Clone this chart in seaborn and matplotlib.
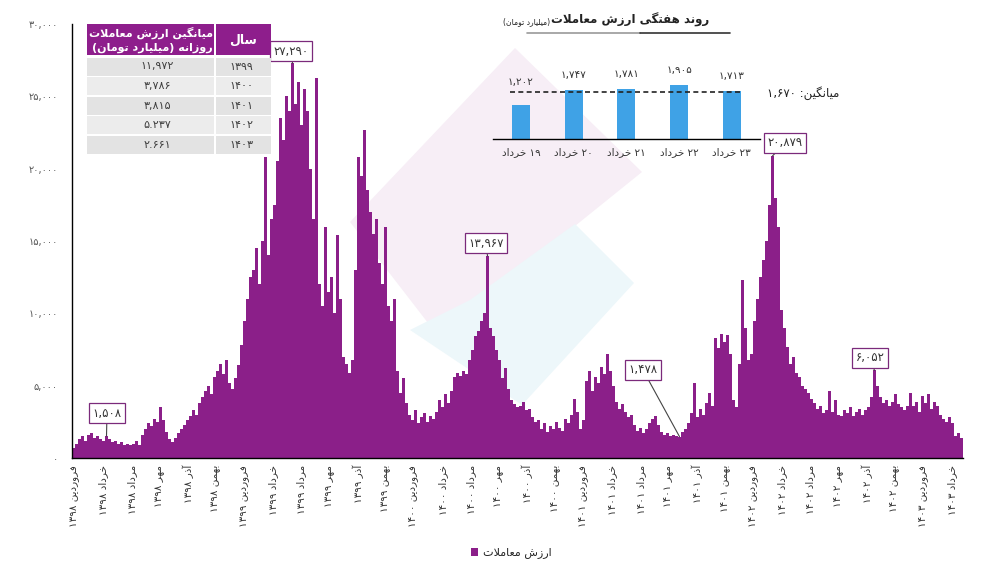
import numpy as np
import pandas as pd
import matplotlib
matplotlib.use("Agg")
import matplotlib.pyplot as plt
import seaborn as sns
from matplotlib.patches import Rectangle, Polygon, Patch
from matplotlib.lines import Line2D

sns.set_theme(style="white")
plt.rcParams["font.family"] = ["DejaVu Sans"]

# ---------------- data ----------------
# daily trading value (billion toman), read off the chart left -> right
daily_value = [
    700, 1000, 1300, 1500, 1200, 1600, 1700, 1400, 1500, 1300,
    1200, 1508, 1300, 1100, 1200, 1000, 1100, 900, 1000, 900,
    1000, 1200, 900,
    1600, 2000, 2400, 2200, 2700, 2500, 3500,
    2600, 1800, 1300, 1100, 1400,
    1700, 2000, 2300, 2600, 2900, 3300, 3000, 3800,
    4200, 4600, 5000, 4400, 5600,
    6000, 6500, 5800, 6800, 5200,
    4800, 5500, 6400, 7800,
    9500, 11000, 12500,
    13000, 14500, 12000, 15000, 20800,
    14000, 16500, 17500,
    20500, 23500, 22000, 25000, 24000,
    27290,
    24500, 26000, 23000, 25500, 24000,
    20000, 16500,
    26300,
    12000, 10500,
    16000,
    11500, 12500, 10000, 15400,
    11000, 7000,
    6500, 5900, 6800,
    13000,
    20800,
    19500, 22700,
    18500, 17000,
    15500, 16500, 13500,
    12000, 16000,
    10500, 9500, 11000,
    6000, 4500, 5500, 3800,
    3000, 2600, 3300, 2400, 2800, 3100, 2500, 2900, 2700,
    3200, 4000, 3500, 4400, 3800, 4600,
    5600, 5900, 5700, 6000, 5800,
    6800, 7500, 8400,
    8800, 9500, 10000,
    13967,
    9000, 8400, 7500,
    6800, 5500, 6200,
    4800, 4000, 3700,
    3500, 3600, 3900, 3300,
    3400, 2800, 2500, 2600,
    2000, 2400, 1800, 2200, 2000, 2500, 2100, 1900,
    2700, 2400, 3000, 4100, 3200,
    2000, 2600,
    5300, 6000, 4600, 5600, 5200, 6300,
    5800, 7200, 6000,
    5000, 3900, 3400,
    3700, 3200, 2800, 3000,
    2300, 1900, 2100, 1700, 2000,
    2400, 2700, 2900, 2300,
    1800, 1600, 1700, 1500, 1600, 1500,
    1478,
    1800, 2000, 2400,
    3100, 5200, 2800, 3400, 3000,
    3800, 4500, 3600,
    8300, 7600, 8600, 8000, 8500, 7200,
    4000, 3500, 6500,
    12300,
    9000, 6800, 7200,
    9500, 11000, 12500, 13700,
    15000, 17500,
    20879,
    18000, 16000,
    10200, 9000,
    7700, 6500, 7000, 5900,
    5600, 5000, 4800, 4500, 4100,
    3800, 3400, 3600, 3100, 3300,
    4600, 3200, 4000, 3000,
    2900, 3300, 3100, 3500, 2900, 3200, 3400, 3000, 3300, 3500,
    4200, 6052, 5000,
    4200, 3800, 4000, 3600, 3900, 4400, 3700, 3500, 3300, 3600,
    4500, 3600, 3900, 3200, 4300, 3800, 4400, 3400, 3900, 3600, 3000,
    2700, 2500, 2800, 2400,
    1500, 1700, 1400,
]
annotated_values = [1508, 27290, 13967, 1478, 20879, 6052]

month_names = ["فروردین", "خرداد", "مرداد", "مهر", "آذر", "بهمن"]
tick_years = ["1398", "1399", "1400", "1401", "1402", "1403"]

table_years = ["1399", "1400", "1401", "1402", "1403"]
table_avgs = ["11,972", "3,786", "3,815", "5.237", "2.661"]

weekly_days = ["19", "20", "21", "22", "23"]
weekly_values = [1202, 1747, 1781, 1905, 1713]
weekly_avg = 1670

PURPLE = "#8B1F89"
HEAD = "#8E1E8C"
BLUE = "#3FA2E6"

# ---------------- Persian text helpers ----------------
FORMS = {
    "\u0627": ("\uFE8D", "\uFE8E", None, None),
    "\u0622": ("\uFE81", "\uFE82", None, None),
    "\u0628": ("\uFE8F", "\uFE90", "\uFE91", "\uFE92"),
    "\u067E": ("\uFB56", "\uFB57", "\uFB58", "\uFB59"),
    "\u062A": ("\uFE95", "\uFE96", "\uFE97", "\uFE98"),
    "\u062E": ("\uFEA5", "\uFEA6", "\uFEA7", "\uFEA8"),
    "\u062F": ("\uFEA9", "\uFEAA", None, None),
    "\u0630": ("\uFEAB", "\uFEAC", None, None),
    "\u0631": ("\uFEAD", "\uFEAE", None, None),
    "\u0632": ("\uFEAF", "\uFEB0", None, None),
    "\u0633": ("\uFEB1", "\uFEB2", "\uFEB3", "\uFEB4"),
    "\u0634": ("\uFEB5", "\uFEB6", "\uFEB7", "\uFEB8"),
    "\u0639": ("\uFEC9", "\uFECA", "\uFECB", "\uFECC"),
    "\u0641": ("\uFED1", "\uFED2", "\uFED3", "\uFED4"),
    "\u0644": ("\uFEDD", "\uFEDE", "\uFEDF", "\uFEE0"),
    "\u0645": ("\uFEE1", "\uFEE2", "\uFEE3", "\uFEE4"),
    "\u0646": ("\uFEE5", "\uFEE6", "\uFEE7", "\uFEE8"),
    "\u0647": ("\uFEE9", "\uFEEA", "\uFEEB", "\uFEEC"),
    "\u0648": ("\uFEED", "\uFEEE", None, None),
    "\u06CC": ("\uFBFC", "\uFBFD", "\uFBFE", "\uFBFF"),
    "\u06AF": ("\uFB92", "\uFB93", "\uFB94", "\uFB95"),
    "\u06A9": ("\uFB8E", "\uFB8F", "\uFB90", "\uFB91"),
}
LAMALEF = {"\u0627": ("\uFEFB", "\uFEFC"), "\u0622": ("\uFEF5", "\uFEF6")}


def _dual(c):
    return c in FORMS and FORMS[c][2] is not None


def shape(s):
    out, i, n = [], 0, len(s)
    while i < n:
        c = s[i]
        if c not in FORMS:
            out.append(c)
            i += 1
            continue
        cp = i > 0 and _dual(s[i - 1])
        if c == "\u0644" and i + 1 < n and s[i + 1] in LAMALEF:
            lig = LAMALEF[s[i + 1]]
            out.append(lig[1] if cp else lig[0])
            i += 2
            continue
        cn = _dual(c) and i + 1 < n and s[i + 1] in FORMS
        iso, fin, ini, med = FORMS[c]
        out.append(med if (cp and cn) else fin if cp else ini if cn else iso)
        i += 1
    return "".join(out)


DIG = set("0123456789۰۱۲۳۴۵۶۷۸۹")
SEP = set(",.،٫")
MIRROR = {"(": ")", ")": "("}
FA_DIG = str.maketrans("0123456789", "۰۱۲۳۴۵۶۷۸۹")


def fa(s):
    s = shape(s.translate(FA_DIG))
    tokens, i = [], 0
    while i < len(s):
        if s[i] in DIG:
            j = i
            while j < len(s) and (s[j] in DIG or (s[j] in SEP and j + 1 < len(s) and s[j + 1] in DIG)):
                j += 1
            tokens.append(s[i:j])
        else:
            j = i
            while j < len(s) and s[j] not in DIG:
                j += 1
            tokens.append("".join(MIRROR.get(ch, ch) for ch in reversed(s[i:j])))
        i = j
    return "".join(reversed(tokens))


# ---------------- figure ----------------
W, H = 1000, 573
fig = plt.figure(figsize=(W / 100, H / 100), dpi=100)


def fx(px):
    return px / W


def fy(py):
    return 1 - py / H


# watermark (faint logo shapes), behind everything
pink = [(515, 48), (642, 172), (575, 226), (445, 345), (350, 222)]
blue = [(575, 224), (634, 283), (522, 405), (410, 330), (470, 300)]
fig.patches.append(Polygon([(fx(a), fy(b)) for a, b in pink], closed=True,
                           transform=fig.transFigure, facecolor="#F7EEF6", edgecolor="none", zorder=-2))
fig.patches.append(Polygon([(fx(a), fy(b)) for a, b in blue], closed=True,
                           transform=fig.transFigure, facecolor="#EDF7FA", edgecolor="none", zorder=-1))

# ---- main chart ----
ax = fig.add_axes([fx(72), fy(458), fx(963) - fx(72), fy(24) - fy(458)])
ax.patch.set_alpha(0)
N = len(daily_value)
df = pd.DataFrame({"day": np.arange(N), "value": daily_value})
sns.barplot(data=df, x="day", y="value", color=PURPLE, saturation=1, width=0.9,
            errorbar=None, linewidth=0, ax=ax)
ax.set_xlim(-0.5, N - 0.5)
ax.set_ylim(0, 30000)
ax.set_xlabel("")
ax.set_ylabel("")

tick_labels = []
for y in tick_years:
    for m in month_names:
        if y == "1403" and m not in ("فروردین", "خرداد"):
            continue
        tick_labels.append(fa(f"{m} {y}"))
tick_pos = 0.5 + 9.43 * np.arange(len(tick_labels))
ax.set_xticks(tick_pos)
ax.set_xticklabels(tick_labels, rotation=90, fontsize=7.5, color="#333333")
yt = list(range(0, 30001, 5000))
ax.set_yticks(yt)
ax.set_yticklabels([fa(f"{v:,}") for v in yt], fontsize=7, color="#555555")
ax.tick_params(axis="x", length=0, pad=5)
ax.tick_params(axis="y", length=0, pad=10)
sns.despine(ax=ax)
for sp in ("left", "bottom"):
    ax.spines[sp].set_color("black")
    ax.spines[sp].set_linewidth(1.0)

# annotations
box_pos_px = [(107, 413), (291, 51), (486, 243), (643, 370), (785, 143), (870, 358)]
for val, (bx, by) in zip(annotated_values, box_pos_px):
    idx = daily_value.index(val)
    xd = (bx - 72) / 3 - 0.5
    yd = (458 - by) * 30000 / 434
    ax.annotate(fa(f"{val:,}"), xy=(idx, val), xytext=(xd, yd),
                ha="center", va="center", fontsize=8.5, color="#333333",
                bbox=dict(boxstyle="square,pad=0.3", fc="white", ec="#7B2A7B", lw=0.9),
                arrowprops=dict(arrowstyle="-", color="#444444", lw=0.8, shrinkA=0, shrinkB=0),
                annotation_clip=False, zorder=5)

# ---- inset weekly chart ----
ax2 = fig.add_axes([fx(493), fy(139), fx(760) - fx(493), fy(60) - fy(139)])
ax2.patch.set_alpha(0)
wdf = pd.DataFrame({"day": [fa(f"{d} خرداد") for d in weekly_days], "value": weekly_values})
sns.barplot(data=wdf, x="day", y="value", color=BLUE, saturation=1, width=0.34,
            errorbar=None, linewidth=0, ax=ax2)
ax2.set_xlim(-0.53, 4.535)
ax2.set_ylim(0, 2797)
ax2.set_xlabel("")
ax2.set_ylabel("")
ax2.set_yticks([])
ax2.tick_params(axis="x", length=0, pad=6, labelsize=7.5, labelcolor="#333333")
for sp in ("left", "top", "right"):
    ax2.spines[sp].set_visible(False)
ax2.spines["bottom"].set_color("black")
ax2.spines["bottom"].set_linewidth(1.0)
ax2.axhline(weekly_avg, xmin=0.064, xmax=0.936, color="#222222", lw=1.2, ls=(0, (3, 2)))
px_unit = 35.4
for i, v in enumerate(weekly_values):
    ylab = max(v + 15 * px_unit, weekly_avg + 10 * px_unit)
    ax2.text(i, ylab, fa(f"{v:,}"), ha="center", va="center", fontsize=7.5,
             color="#333333", clip_on=False)

fig.text(fx(767), fy(93), fa(f"میانگین: {weekly_avg:,}"), ha="left", va="center",
         fontsize=8.5, color="#222222")

# inset title: main part on the right, smaller unit to its left
title_main = fig.text(fx(709), fy(20), fa("روند هفتگی ارزش معاملات"), ha="right", va="center",
                      fontsize=8.5, fontweight="bold", color="#222222")
renderer = fig.canvas.get_renderer()
bb = title_main.get_window_extent(renderer=renderer)
left_px = bb.x0
fig.text((left_px - 1) / W, fy(22), fa("(میلیارد تومان)"), ha="right", va="center",
         fontsize=5.5, color="#222222")
fig.add_artist(Line2D([fx(527), fx(640)], [fy(33), fy(33)], transform=fig.transFigure,
                      color="#9A9A9A", lw=1.2))
fig.add_artist(Line2D([fx(640), fx(730)], [fy(33), fy(33)], transform=fig.transFigure,
                      color="#333333", lw=1.2))

# ---- table ----
def frect(x0, y0, x1, y1, color):
    fig.patches.append(Rectangle((fx(x0), fy(y1)), fx(x1) - fx(x0), fy(y0) - fy(y1),
                                 transform=fig.transFigure, facecolor=color,
                                 edgecolor="none", zorder=3))

frect(87, 24, 214, 55, HEAD)
frect(216, 24, 271, 55, HEAD)
fig.text(fx(151), fy(33), fa("میانگین ارزش معاملات"), ha="center", va="center",
         fontsize=8, fontweight="bold", color="white", zorder=4)
fig.text(fx(152), fy(48), fa("روزانه (میلیارد تومان)"), ha="center", va="center",
         fontsize=8, fontweight="bold", color="white", zorder=4)
fig.text(fx(243), fy(40), fa("سال"), ha="center", va="center",
         fontsize=9, fontweight="bold", color="white", zorder=4)
row_colors = ["#E3E3E3", "#ECECEC"]
for r, (yr, av) in enumerate(zip(table_years, table_avgs)):
    t = 57.5 + 19.6 * r
    b = t + 18
    c = row_colors[r % 2]
    frect(87, t, 214, b, c)
    frect(216, t, 271, b, c)
    fig.text(fx(157), fy((t + b) / 2), fa(av), ha="center", va="center",
             fontsize=8, color="#404040", zorder=4)
    fig.text(fx(241), fy((t + b) / 2), fa(yr), ha="center", va="center",
             fontsize=8, color="#404040", zorder=4)

# ---- legend ----
fig.legend(handles=[Patch(facecolor=PURPLE, edgecolor="none")],
           labels=[fa("ارزش معاملات")], loc="center",
           bbox_to_anchor=(fx(511), fy(553)), frameon=False, fontsize=8,
           handlelength=0.7, handleheight=0.7, handletextpad=0.4)

fig.savefig("out.png", dpi=100)
